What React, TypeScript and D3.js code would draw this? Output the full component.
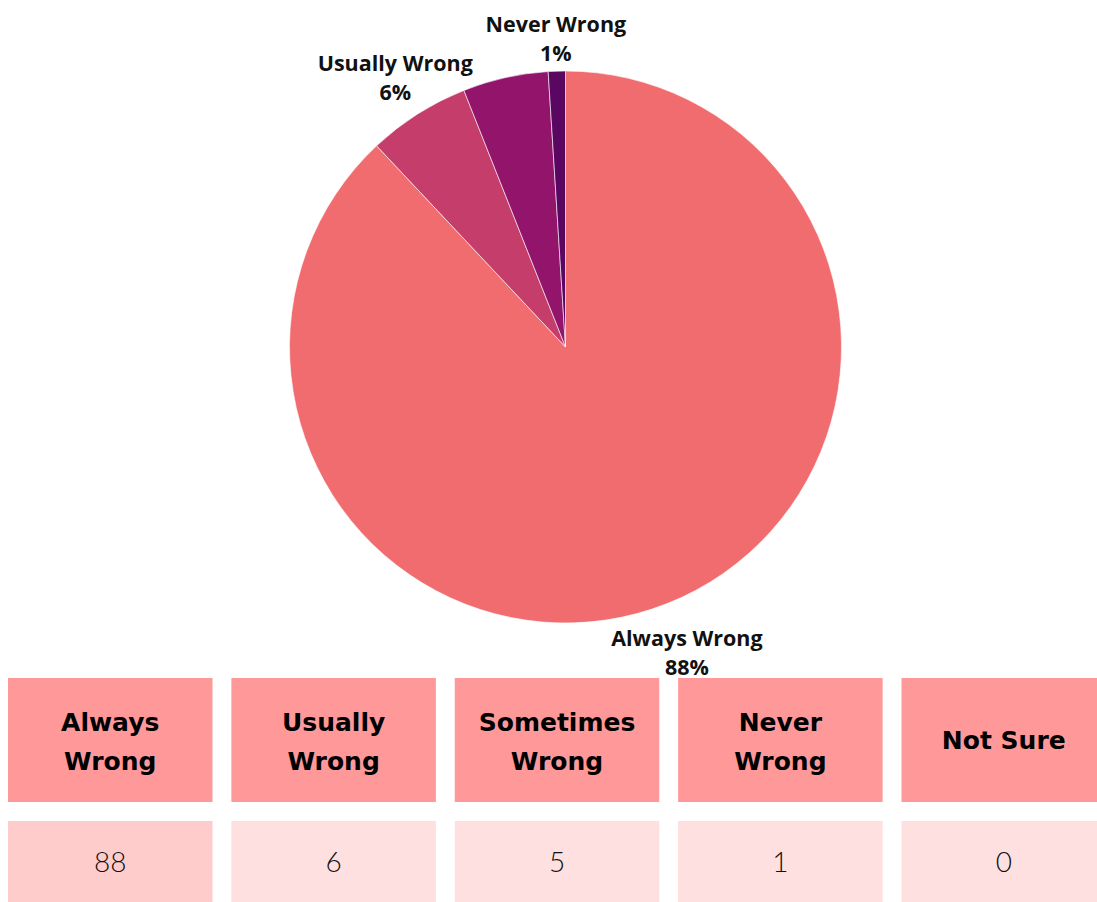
import React from "react";
import * as d3 from "d3";

const categories = ["Always Wrong", "Usually Wrong", "Sometimes Wrong", "Never Wrong", "Not Sure"];
const values = [88, 6, 5, 1, 0];
const sliceColors = ["#F06C6E", "#C53D6B", "#92156B", "#5A0762", "#2E0441"];
const showLabel = [true, true, false, true, false];
const headerLines = [["Always", "Wrong"], ["Usually", "Wrong"], ["Sometimes", "Wrong"], ["Never", "Wrong"], ["Not Sure"]];
const valueCellColors = ["#FFCCCC", "#FFE0E0", "#FFE0E0", "#FFE0E0", "#FFE0E0"];

const W = 1097;
const H = 902;
const cx = 565.5;
const cy = 347;
const R = 276;

export default function App() {
  const total = d3.sum(values);
  const pie = d3.pie<number>().sort(null).value((d) => d);
  const arcs = pie(values);
  const arc = d3.arc<d3.PieArcDatum<number>>().innerRadius(0).outerRadius(R);

  const x = d3.scaleBand<string>().domain(categories).range([8, 1106]).paddingInner(0.0845);
  const headerY = d3.scaleLinear().domain([0, 1]).range([678, 802]);
  const valueY = d3.scaleLinear().domain([0, 1]).range([821, 910]);

  return (
    <div style={{ position: "fixed", left: 0, top: 0, width: W, height: H, overflow: "hidden", background: "#fff" }}>
      <svg width={W + 20} height={H + 10} style={{ display: "block" }}>
        <g transform={`translate(${cx},${cy})`}>
          {arcs.map((a, i) =>
            a.value > 0 ? (
              <path key={i} d={arc(a) || ""} fill={sliceColors[i]} stroke="#ffffff" strokeWidth={0.6} />
            ) : null
          )}
          {arcs.map((a, i) => {
            if (!showLabel[i] || a.value <= 0) return null;
            const mid = (a.startAngle + a.endAngle) / 2;
            const sx = Math.sin(mid);
            const dy = -Math.cos(mid);
            // push the label out by its text extent along the direction
            const rl = R + 30 + 22 * Math.abs(sx) + 17 * Math.max(0, dy);
            const lx = sx * rl;
            const ly = dy * rl;
            const pct = Math.round((a.value / total) * 100);
            return (
              <text
                key={"l" + i}
                x={lx}
                y={ly}
                textAnchor="middle"
                fontFamily="'Open Sans', sans-serif"
                fontWeight={700}
                fontSize={21.5}
                fill="#111"
              >
                <tspan x={lx} dy={-8}>{categories[i]}</tspan>
                <tspan x={lx} dy={29}>{pct}%</tspan>
              </text>
            );
          })}
        </g>
        {categories.map((c, i) => {
          const x0 = x(c) as number;
          const bw = x.bandwidth();
          const lines = headerLines[i];
          const midH = (headerY(0) + headerY(1)) / 2;
          const midV = (valueY(0) + 902) / 2;
          return (
            <g key={"t" + i}>
              <rect x={x0} y={headerY(0)} width={bw} height={headerY(1) - headerY(0)} fill="#FF9999" />
              <rect x={x0} y={valueY(0)} width={bw} height={valueY(1) - valueY(0)} fill={valueCellColors[i]} />
              {lines.map((ln, j) => (
                <text
                  key={j}
                  x={x0 + bw / 2}
                  y={midH + (lines.length > 1 ? 10.5 : 8.5) + (j - (lines.length - 1) / 2) * 39}
                  textAnchor="middle"
                  fontFamily="'DejaVu Sans', sans-serif"
                  fontWeight={700}
                  fontSize={25}
                  fill="#000"
                >
                  {ln}
                </text>
              ))}
              <text
                x={x0 + bw / 2}
                y={midV + 10.5}
                textAnchor="middle"
                fontFamily="Lato, sans-serif"
                fontWeight={300}
                fontSize={28}
                fill="#111"
              >
                {values[i]}
              </text>
            </g>
          );
        })}
      </svg>
    </div>
  );
}
